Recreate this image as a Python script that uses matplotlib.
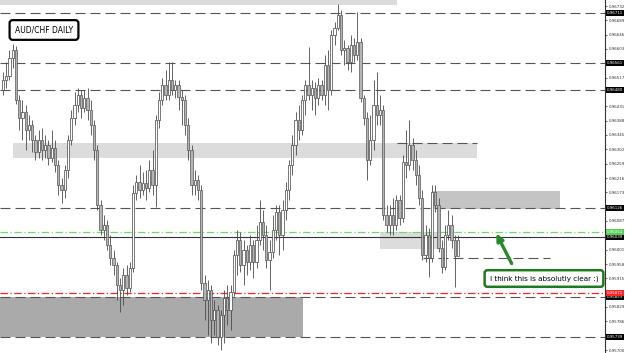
#!/usr/bin/env python3
"""AUD/CHF daily chart with support/resistance zones"""

import numpy as np
import matplotlib
matplotlib.use('Agg')
import matplotlib.pyplot as plt
import matplotlib.transforms as mtransforms

# prices in points (1 point = 0.00001)
first_open = 96480
close_pts = [96510, 96522, 96576, 96600, 96450, 96396, 96414, 96360, 96375, 96330,
             96294, 96330, 96300, 96315, 96276, 96306, 96255, 96195, 96180, 96240,
             96330, 96396, 96435, 96465, 96426, 96456, 96420, 96375, 96300, 96135,
             96060, 96075, 96015, 95976, 95955, 95895, 95880, 95925, 95886, 95946,
             96171, 96204, 96180, 96201, 96186, 96240, 96195, 96390, 96450, 96495,
             96465, 96510, 96480, 96495, 96459, 96450, 96375, 96300, 96195, 96210,
             96180, 95901, 95850, 95880, 95790, 95820, 95739, 95805, 95856, 95820,
             95874, 95985, 96030, 95955, 96000, 95964, 96015, 95964, 96030, 96084,
             96045, 95970, 95994, 96060, 96114, 96045, 96120, 96180, 96255, 96315,
             96390, 96360, 96450, 96495, 96465, 96486, 96456, 96495, 96465, 96555,
             96480, 96645, 96666, 96705, 96600, 96606, 96564, 96615, 96585, 96624,
             96456, 96396, 96270, 96330, 96435, 96405, 96420, 96105, 96075, 96105,
             96075, 96150, 96096, 96264, 96255, 96315, 96270, 96225, 96156, 95985,
             96045, 95976, 96174, 96135, 96006, 95949, 96045, 96075, 96030, 95982,
             96030]
high_pts = [96534, 96564, 96600, 96618, 96612, 96465, 96450, 96435, 96405, 96390,
            96345, 96360, 96366, 96345, 96330, 96360, 96330, 96270, 96216, 96255,
            96345, 96420, 96474, 96486, 96480, 96480, 96486, 96450, 96390, 96315,
            96150, 96105, 96090, 96045, 96000, 95964, 95916, 95946, 95955, 95964,
            96195, 96225, 96255, 96234, 96240, 96270, 96300, 96405, 96474, 96516,
            96540, 96564, 96564, 96510, 96510, 96480, 96465, 96396, 96315, 96240,
            96225, 96195, 95925, 95910, 95895, 95850, 95835, 95820, 95880, 95895,
            95895, 96000, 96060, 96054, 96030, 96015, 96045, 96030, 96075, 96150,
            96120, 96075, 96030, 96105, 96135, 96135, 96150, 96204, 96270, 96345,
            96414, 96435, 96465, 96510, 96609, 96510, 96504, 96516, 96510, 96585,
            96600, 96660, 96684, 96738, 96720, 96630, 96615, 96645, 96636, 96714,
            96636, 96465, 96414, 96405, 96510, 96534, 96465, 96435, 96135, 96135,
            96156, 96165, 96165, 96285, 96360, 96390, 96336, 96300, 96255, 96180,
            96075, 96066, 96195, 96195, 96156, 96030, 96075, 96120, 96105, 96045,
            96045]
low_pts = [96465, 96486, 96510, 96546, 96438, 96360, 96330, 96300, 96330, 96294,
           96270, 96276, 96270, 96276, 96255, 96264, 96234, 96165, 96141, 96156,
           96216, 96315, 96375, 96414, 96396, 96414, 96390, 96345, 96270, 96120,
           96045, 96030, 96000, 95955, 95925, 95850, 95814, 95835, 95865, 95874,
           95934, 96150, 96156, 96165, 96150, 96174, 96165, 96129, 96366, 96435,
           96450, 96450, 96465, 96456, 96420, 96375, 96345, 96270, 96165, 96165,
           96150, 95880, 95790, 95745, 95721, 95745, 95715, 95700, 95721, 95775,
           95760, 95862, 95925, 95934, 95895, 95925, 95940, 95916, 95946, 96015,
           96000, 95946, 95880, 95976, 96030, 95985, 96000, 96090, 96150, 96225,
           96285, 96330, 96345, 96405, 96450, 96420, 96405, 96435, 96450, 96435,
           96420, 96465, 96615, 96660, 96585, 96555, 96540, 96534, 96564, 96570,
           96444, 96375, 96210, 96255, 96300, 96375, 96375, 96090, 96054, 96045,
           96045, 96060, 96075, 96084, 96216, 96240, 96240, 96195, 96135, 95970,
           95964, 95919, 95964, 96114, 95994, 95931, 95940, 96030, 96006, 95889,
           96000]

# horizontal levels (points)
dashed_full = [96711, 96561, 96480, 96126, 95859, 95739]
dashed_partial = [(96321, 121.2, 145.8), (95976, 129.2, 168.3)]
green_level = 96054
black_level = 96039
red_level = 95871

# zones: (x0, x1) in bar index, (low, high) in points, colour
zones = [((-1.0, 121.2), (96735, 96760), '#dcdcdc'),
         ((3.1, 145.8), (96276, 96321), '#dcdcdc'),
         ((132.3, 171.4), (96123, 96177), '#c4c4c4'),
         ((116.0, 134.5), (96003, 96054), '#dcdcdc'),
         ((-1.0, 92.3), (95739, 95859), '#aaaaaa')]

tick_start = 96732
tick_step = 43

c = np.array(close_pts) / 1e5
h = np.array(high_pts) / 1e5
l = np.array(low_pts) / 1e5
o = np.concatenate([[first_open / 1e5], c[:-1]])
x = np.arange(len(c))

fig = plt.figure(figsize=(6.25, 3.53), dpi=100)
ax = fig.add_axes([0, 0, 605 / 625, 1])
ax.set_xlim(-0.923, 185.23)
ax.set_ylim(0.95691, 0.96750)

for (x0, x1), (lo, hi), col in zones:
    ax.fill_between([x0, x1], lo / 1e5, hi / 1e5, color=col, lw=0, zorder=1)

dash = dict(color='#555555', lw=0.8, dashes=(9, 4.5), zorder=2)
for lv in dashed_full:
    ax.axhline(lv / 1e5, **dash)
for lv, x0, x1 in dashed_partial:
    ax.plot([x0, x1], [lv / 1e5] * 2, **dash)
ax.axhline(green_level / 1e5, color='#66dd66', lw=0.9, ls=(0, (6, 2, 1, 2)), zorder=2)
ax.axhline(black_level / 1e5, color='#333333', lw=0.8, zorder=2)
ax.axhline(red_level / 1e5, color='#ff2222', lw=0.9, ls=(0, (6, 2, 1, 2)), zorder=2)

# candles
up = c >= o
ax.vlines(x, l, h, color='#4a4a4a', lw=0.6, zorder=3)
ax.bar(x[up], c[up] - o[up], bottom=o[up], width=0.7, color='white',
       edgecolor='#444444', linewidth=0.5, zorder=4)
ax.bar(x[~up], c[~up] - o[~up], bottom=o[~up], width=0.7, color='#b4b4b4',
       edgecolor='#555555', linewidth=0.5, zorder=4)

# right price scale
for s in ['top', 'left', 'bottom']:
    ax.spines[s].set_visible(False)
ax.spines['right'].set_color('#333333')
ax.spines['right'].set_linewidth(0.8)
ax.set_xticks([])
marked = dashed_full + [green_level, black_level, red_level]
ticks = [tick_start - k * tick_step for k in range(25)]
ticks = [t for t in ticks if min(abs(t - m) for m in marked) > 18]
ax.yaxis.tick_right()
ax.set_yticks([t / 1e5 for t in ticks])
ax.set_yticklabels([f'{t / 1e5:.5f}' for t in ticks], fontsize=2.9, color='#333333')
ax.tick_params(axis='y', length=1.5, width=0.5, pad=1.0, color='#333333')

trans = mtransforms.blended_transform_factory(ax.transAxes, ax.transData)
label_style = [(lv, 'black', 'white') for lv in dashed_full + [black_level]]
label_style += [(green_level, '#55cc55', 'white'), (red_level, '#ff2222', 'white')]
for lv, bg, fg in label_style:
    ax.text(1.003, lv / 1e5, f'{lv / 1e5:.5f}', transform=trans, fontsize=2.9,
            color=fg, va='center', ha='left', clip_on=False, zorder=6,
            bbox=dict(boxstyle='square,pad=0.2', fc=bg, ec='none'))

# title box
fig.text(44 / 625, 1 - 30 / 353, 'AUD/CHF DAILY', fontsize=5.5, ha='center', va='center',
         bbox=dict(boxstyle='round,pad=0.7,rounding_size=0.4', fc='white', ec='black', lw=1.6))

# comment box with arrow
ax.annotate('', xy=(151.4, 0.96057), xytext=(156.9, 0.95952),
            arrowprops=dict(arrowstyle='-|>', lw=2.4, color='#2a8a2a', mutation_scale=10),
            zorder=7)
fig.text(544 / 625, 1 - 278.5 / 353, 'I think this is absolutly clear :)', fontsize=5.2,
         ha='center', va='center', zorder=8,
         bbox=dict(boxstyle='round,pad=0.7,rounding_size=0.4', fc='white', ec='#1f7a1f', lw=1.8))

plt.savefig('out.png', dpi=100)
